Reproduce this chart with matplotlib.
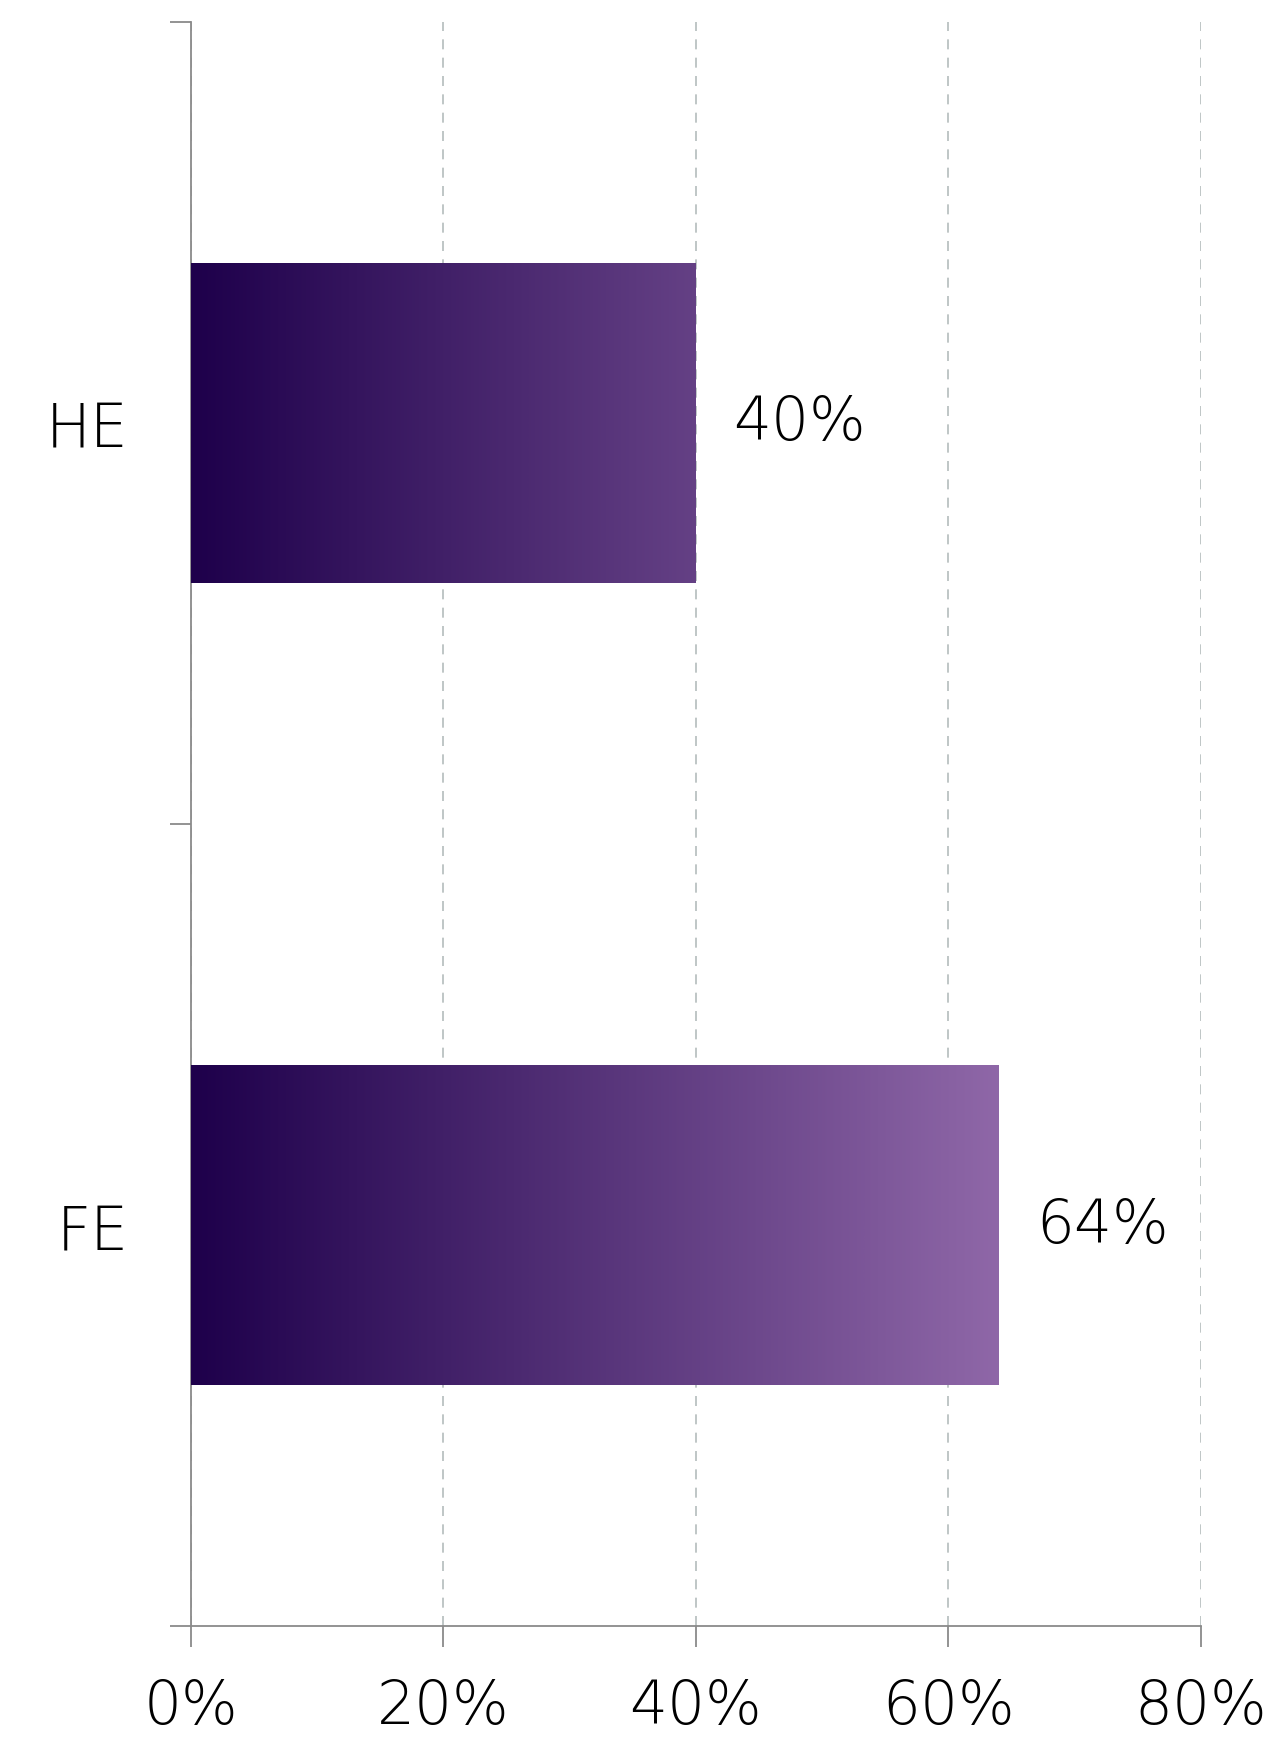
import matplotlib
matplotlib.use("Agg")
import matplotlib.pyplot as plt
import numpy as np
from matplotlib.colors import LinearSegmentedColormap

categories = ["FE", "HE"]
values = [64, 40]
x_ticks = [0, 20, 40, 60, 80]
x_tick_labels = ["0%", "20%", "40%", "60%", "80%"]
grad_start = "#1e004b"
grad_end = "#ab81bf"

plt.rcParams['font.family'] = ['DejaVu Sans']
FS = 43
W = 'light'

fig = plt.figure(figsize=(12.72, 17.40), dpi=100)
ax = fig.add_axes([0.150, 0.0649, 0.794, 0.9219])

ypos = np.arange(len(categories))
bars = ax.barh(ypos, values, height=0.4, color='none', edgecolor='none', zorder=3)

cmap = LinearSegmentedColormap.from_list("g", [grad_start, grad_end])
grad = np.linspace(0, 1, 512).reshape(1, -1)
xmin, xmax = x_ticks[0], x_ticks[-1]
for b in bars:
    im = ax.imshow(grad, cmap=cmap, aspect='auto', extent=[xmin, xmax, b.get_y(), b.get_y() + b.get_height()],
                   zorder=3, interpolation='bilinear')
    im.set_clip_path(b)

for b, v in zip(bars, values):
    ax.annotate(f"{v}%", (b.get_width(), b.get_y() + b.get_height() / 2), xytext=(27, 0),
                textcoords='offset points', ha='left', va='center', fontsize=FS, fontweight=W, color='black')

ax.set_xlim(xmin, xmax)
ax.set_ylim(-0.5, len(categories) - 0.5)
ax.set_xticks(x_ticks)
ax.set_xticklabels(x_tick_labels, fontsize=FS, fontweight=W)
ax.set_yticks(np.arange(len(categories) + 1) - 0.5)
ax.set_yticklabels([])
ax.set_yticks(ypos, minor=True)
ax.set_yticklabels(categories, minor=True, fontsize=FS, fontweight=W)
ax.tick_params(axis='y', which='minor', length=0, pad=45)
ax.tick_params(axis='both', which='major', length=15, width=1.3, color='#8a8a8a')
ax.tick_params(axis='x', pad=22)

for s in ['top', 'right']:
    ax.spines[s].set_visible(False)
for s in ['left', 'bottom']:
    ax.spines[s].set_color('#8a8a8a')
    ax.spines[s].set_linewidth(1.3)

ax.grid(axis='x', linestyle=(0, (6, 5)), color='#b4bcbc', linewidth=1.2, zorder=0)
ax.set_axisbelow(True)

fig.savefig("out.png", dpi=100, facecolor='white')
